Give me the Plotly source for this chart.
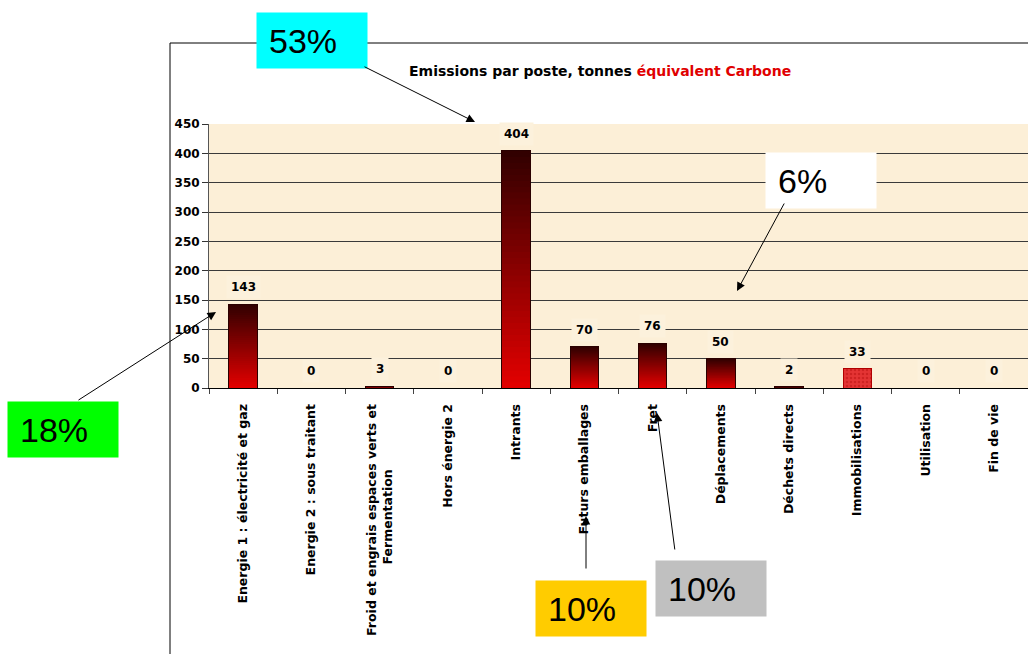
import plotly.graph_objects as go

categories = [
    "Energie 1 : électricité et gaz",
    "Energie 2 : sous traitant",
    "Froid et engrais espaces verts et<br>Fermentation",
    "Hors énergie 2",
    "Intrants",
    "Futurs emballages",
    "Fret",
    "Déplacements",
    "Déchets directs",
    "Immobilisations",
    "Utilisation",
    "Fin de vie",
]
values = [143, 0, 3, 0, 404, 70, 76, 50, 2, 33, 0, 0]
value_labels = [str(v) for v in values]
y_ticks = [0, 50, 100, 150, 200, 250, 300, 350, 400, 450]

title_black = "Emissions par poste, tonnes "
title_red = "équivalent Carbone"

callouts = [  # text, box color
    ("53%", "#00ffff"),
    ("6%", "#ffffff"),
    ("18%", "#00ff00"),
    ("10%", "#ffcc00"),
    ("10%", "#c0c0c0"),
]

# ---- layout geometry (pixels) ----
W, H = 1028, 654
PL, PR, PT, PB = 209, 1028, 124, 388


def px(x):
    return (x - PL) / (PR - PL)


def py(y):
    return (PB - y) / (PB - PT)


FONT = "DejaVu Sans, Verdana, sans-serif"
BOXFONT = "Liberation Sans, Arial, sans-serif"
N = 40
top_rgb = (50, 0, 0)
bot_rgb = (226, 0, 0)
special_idx = categories.index("Immobilisations")

# display text for ticks: centre the second line of the two-line label
tick_text = [c.replace("<br>Fermentation", "<br>Fermentation" + "\u00a0" * 15) for c in categories]

fig = go.Figure()
for k in range(N):
    t = k / (N - 1)
    r = round(bot_rgb[0] + (top_rgb[0] - bot_rgb[0]) * t)
    g = round(bot_rgb[1] + (top_rgb[1] - bot_rgb[1]) * t)
    b = round(bot_rgb[2] + (top_rgb[2] - bot_rgb[2]) * t)
    c = f"rgb({r},{g},{b})"
    cols = [c] * len(values)
    cols[special_idx] = "#e43434"
    fig.add_trace(go.Bar(
        x=categories, y=[v / N for v in values],
        marker=dict(color=cols, line=dict(color=cols, width=0.5)),
        showlegend=False, hoverinfo="skip",
    ))

line_cols = ["#2a0000"] * len(values)
line_cols[special_idx] = "#b00000"
shapes_p = [""] * len(values)
shapes_p[special_idx] = "."
fig.add_trace(go.Bar(
    x=categories, y=values, xaxis="x2",
    marker=dict(color="rgba(0,0,0,0)", line=dict(color=line_cols, width=1),
                pattern=dict(shape=shapes_p, fgcolor="#b81010", size=4, solidity=0.35)),
    showlegend=False, hoverinfo="skip",
))

annotations = []
for c, v, lab in zip(categories, values, value_labels):
    annotations.append(dict(
        x=c, y=v, xref="x", yref="y", text=f"<b>{lab}</b>", showarrow=False,
        yshift=17, font=dict(family=FONT, size=12, color="#000"),
        bgcolor="#fcf1dc", borderpad=4,
    ))

annotations.append(dict(
    x=px(600), y=py(61), xref="paper", yref="paper", showarrow=False,
    text=f"<b>{title_black}<span style='color:#e00000'>{title_red}</span></b>",
    font=dict(family=FONT, size=14, color="#000"),
))

# callout boxes: (left, top) pixel positions
boxes = [(256, 12), (765, 152), (7, 401), (535, 580), (655, 560)]
for (txt, col), (bx, by) in zip(callouts, boxes):
    annotations.append(dict(
        x=px(bx), y=py(by), xref="paper", yref="paper", xanchor="left", yanchor="top",
        text=txt, showarrow=False, align="left", width=86, height=31, borderpad=12,
        bgcolor=col, font=dict(family=BOXFONT, size=34, color="#000"),
    ))

# arrows: (tail, tip) pixel positions
arrows = [((363, 66), (475, 122)), ((785, 202), (737, 291)), ((77, 401), (216, 312)),
          ((586, 570), (586, 516)), ((675, 551), (657, 413))]
for (tx, ty), (hx, hy) in arrows:
    annotations.append(dict(
        x=px(hx), y=py(hy), xref="paper", yref="paper", text="", showarrow=True,
        ax=tx - hx, ay=ty - hy, arrowhead=2, arrowsize=1.7, arrowwidth=1, arrowcolor="#000",
    ))

shapes = [
    dict(type="line", xref="paper", yref="paper", x0=px(170), x1=px(1030), y0=py(43), y1=py(43),
         line=dict(color="#000", width=1), layer="below"),
    dict(type="line", xref="paper", yref="paper", x0=px(170), x1=px(170), y0=py(43), y1=py(660),
         line=dict(color="#000", width=1), layer="below"),
]

fig.update_layout(
    width=W, height=H,
    margin=dict(l=PL, r=W - PR, t=PT, b=H - PB, pad=0),
    paper_bgcolor="#ffffff", plot_bgcolor="#fcefd7",
    barmode="stack", bargap=0.58,
    showlegend=False,
    annotations=annotations, shapes=shapes,
    xaxis=dict(type="category", categoryarray=categories, range=[-0.5, len(categories) - 0.5],
               tickmode="array", tickvals=categories, ticktext=tick_text,
               tickson="boundaries", ticks="outside", ticklen=5, tickcolor="#444",
               ticklabelstandoff=10,
               tickangle=-90, tickfont=dict(family=FONT, size=12.5, color="#000", weight="bold"),
               showline=True, linecolor="#000", linewidth=1, showgrid=False, fixedrange=True),
    xaxis2=dict(type="category", categoryarray=categories, range=[-0.5, len(categories) - 0.5],
                overlaying="x", visible=False),
    yaxis=dict(range=[0, 450], tickvals=y_ticks, ticks="outside", ticklen=6, tickcolor="#333",
               tickfont=dict(family=FONT, size=12, color="#000", weight="bold"),
               showgrid=True, gridcolor="#3a3a3a", gridwidth=1, zeroline=False,
               showline=True, linecolor="#555", linewidth=1),
)

fig.write_html("out.html", config={"displayModeBar": False},
               post_script="document.body.style.margin='0';document.body.style.overflow='hidden';")
